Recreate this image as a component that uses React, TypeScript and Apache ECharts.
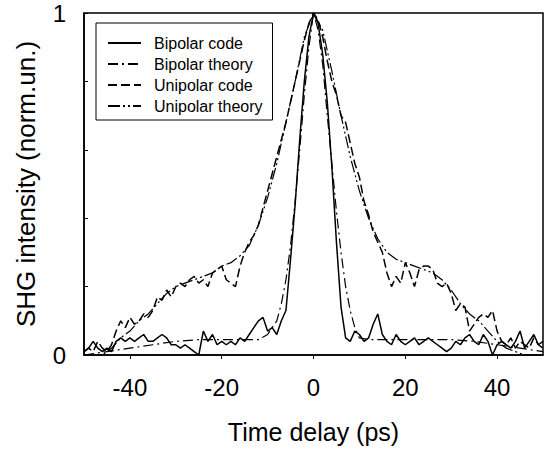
import React, { useEffect, useRef } from "react";
import * as echarts from "echarts";

// x grid for measured (noisy) traces, ps
const codeDelays = [
  -50, -49, -48, -47, -46, -45, -44, -43, -42, -41,
  -40, -39, -38, -37, -36, -35, -34, -33, -32, -31,
  -30, -29, -28, -27, -26, -25, -24, -23, -22, -21,
  -20, -19, -18, -17, -16, -15, -14, -13, -12, -11,
  -10, -9, -8, -7, -6, -5, -4, -3, -2, -1,
  0, 1, 2, 3, 4, 5, 6, 7, 8, 9,
  10, 11, 12, 13, 14, 15, 16, 17, 18, 19,
  20, 21, 22, 23, 24, 25, 26, 27, 28, 29,
  30, 31, 32, 33, 34, 35, 36, 37, 38, 39,
  40, 41, 42, 43, 44, 45, 46, 47, 48, 49,
  50,
];

const bipolarCode = [
  0.01, 0.02, 0.04, 0.02, 0.01, 0.02, 0.01, 0.04, 0.05, 0.04,
  0.05, 0.04, 0.05, 0.06, 0.04, 0.04, 0.05, 0.06, 0.05, 0.03,
  0.03, 0.02, 0.03, 0.02, 0.01, 0.0, 0.07, 0.04, 0.06, 0.03,
  0.04, 0.03, 0.04, 0.03, 0.05, 0.04, 0.06, 0.08, 0.1, 0.11,
  0.07, 0.08, 0.06, 0.1, 0.13, 0.28, 0.44, 0.63, 0.8, 0.93,
  1.0, 0.97, 0.88, 0.74, 0.55, 0.33, 0.14, 0.05, 0.04, 0.07,
  0.06, 0.04, 0.05, 0.09, 0.12, 0.06, 0.04, 0.03, 0.06, 0.04,
  0.03, 0.04, 0.05, 0.03, 0.04, 0.05, 0.04, 0.03, 0.02, 0.01,
  0.02, 0.04, 0.03, 0.05, 0.06, 0.04, 0.03, 0.06, 0.04, 0.0,
  0.03, 0.04, 0.03, 0.02, 0.04, 0.07, 0.02, 0.04, 0.06, 0.03,
  0.04,
];

const unipolarCode = [
  0.01, 0.02, 0.01, 0.04, 0.02, 0.01, 0.03, 0.07, 0.1, 0.08,
  0.11, 0.09, 0.1, 0.12, 0.11, 0.13, 0.17, 0.16, 0.19, 0.17,
  0.2, 0.21, 0.2, 0.22, 0.23, 0.21, 0.22, 0.2, 0.24, 0.25,
  0.26, 0.22, 0.21, 0.2, 0.26, 0.3, 0.33, 0.35, 0.38, 0.43,
  0.48, 0.53, 0.58, 0.63, 0.68, 0.74, 0.8, 0.86, 0.92, 0.97,
  1.0, 0.98, 0.93, 0.86, 0.8, 0.76, 0.7, 0.68, 0.62, 0.56,
  0.52, 0.45, 0.41, 0.36, 0.33, 0.3, 0.24, 0.2, 0.23, 0.21,
  0.27, 0.24, 0.2, 0.25, 0.26, 0.26, 0.25, 0.21, 0.2, 0.21,
  0.18, 0.13, 0.15, 0.14, 0.07, 0.09, 0.11, 0.12, 0.11, 0.13,
  0.07, 0.04, 0.03, 0.05, 0.02, 0.04, 0.03, 0.02, 0.05, 0.03,
  0.02,
];

// smooth theory curves
const bipolarTheoryX = [
  -50, -45, -40, -35, -30, -25, -20, -15, -12, -10, -8, -7, -6, -5, -4, -3, -2, -1,
  0, 1, 2, 3, 4, 5, 6, 7, 8, 9, 10, 12, 20, 30, 35, 40, 45, 50,
];
const bipolarTheoryY = [
  0.0, 0.01, 0.02, 0.03, 0.04, 0.045, 0.045, 0.045, 0.045, 0.06, 0.1, 0.15, 0.22, 0.32, 0.45, 0.6, 0.76, 0.9,
  1.0, 0.95, 0.85, 0.7, 0.56, 0.42, 0.3, 0.2, 0.13, 0.08, 0.05, 0.045, 0.045, 0.045, 0.04, 0.03, 0.02, 0.01,
];

const unipolarTheoryX = [
  -50, -46, -44, -42, -40, -38, -36, -34, -32, -30, -28, -26, -24, -22, -20, -18, -16, -14, -12, -10,
  -8, -6, -4, -2, 0, 2, 4, 6, 8, 10, 12, 14, 16, 18, 20, 22, 24, 26, 28, 30,
  32, 34, 36, 38, 40, 42, 44, 46, 50,
];
const unipolarTheoryY = [
  0.0, 0.0, 0.02, 0.05, 0.07, 0.1, 0.12, 0.15, 0.18, 0.2, 0.21, 0.22, 0.23, 0.24, 0.26, 0.27, 0.29, 0.32, 0.38, 0.46,
  0.56, 0.68, 0.8, 0.93, 1.0, 0.95, 0.83, 0.7, 0.58, 0.48, 0.4, 0.34, 0.3, 0.28, 0.27, 0.26, 0.25, 0.24, 0.22, 0.19,
  0.15, 0.12, 0.1, 0.07, 0.04, 0.02, 0.01, 0.0, 0.0,
];

const xTickValues = [-40, -20, 0, 20, 40];
const yTickValues = [0, 0.2, 0.4, 0.6, 0.8, 1];
const yLabelValues = [0, 1];

const seriesNames = ["Bipolar code", "Bipolar theory", "Unipolar code", "Unipolar theory"];

const zip = (xs: number[], ys: number[]) => xs.map((x, i) => [x, ys[i]]);

const FONT = "'Liberation Sans', Arial, Helvetica, sans-serif";

export default function App() {
  const ref = useRef<HTMLDivElement>(null);
  useEffect(() => {
    if (!ref.current) return;
    const chart = echarts.init(ref.current, undefined, { renderer: "svg" });
    const lineBase = (name: string, data: number[][], type: any, width: number) => ({
      name,
      type: "line",
      data,
      symbol: "none",
      smooth: false,
      lineStyle: { color: "#000", width, type },
      itemStyle: { color: "#000" },
      z: 3,
    });
    chart.setOption({
      animation: false,
      backgroundColor: "#fff",
      textStyle: { fontFamily: FONT, color: "#000" },
      grid: {
        left: 84,
        right: 8,
        top: 13,
        bottom: 90,
        show: true,
        borderColor: "#000",
        borderWidth: 1.5,
      },
      legend: {
        orient: "vertical",
        left: 96,
        top: 23,
        padding: [12, 10, 6, 11],
        itemGap: 5,
        itemWidth: 33,
        itemHeight: 14,
        borderColor: "#000",
        borderWidth: 1,
        backgroundColor: "#fff",
        itemStyle: { color: "transparent", borderWidth: 0, opacity: 0 },
        textStyle: { fontSize: 16, fontFamily: FONT, color: "#000", padding: [0, 0, 0, 8] },
        data: seriesNames,
      },
      xAxis: {
        type: "value",
        min: -50,
        max: 50,
        name: "Time delay (ps)",
        nameLocation: "middle",
        nameGap: 64,
        nameTextStyle: { fontSize: 25, fontFamily: FONT, color: "#000" },
        axisLine: { show: true, onZero: false, lineStyle: { color: "#000", width: 1.5 } },
        axisTick: { show: true, inside: false, length: 4, customValues: xTickValues, lineStyle: { color: "#000" } },
        axisLabel: { customValues: xTickValues, fontSize: 24, color: "#000", fontFamily: FONT, margin: 20 },
        splitLine: { show: false },
      },
      yAxis: {
        type: "value",
        min: 0,
        max: 1,
        name: "SHG intensity (norm.un.)",
        nameLocation: "middle",
        nameGap: 45,
        nameTextStyle: { fontSize: 26, fontFamily: FONT, color: "#000" },
        axisLine: { show: true, onZero: false, lineStyle: { color: "#000", width: 1.5 } },
        axisTick: { show: true, inside: true, length: 4, customValues: yTickValues, lineStyle: { color: "#000" } },
        axisLabel: {
          customValues: yLabelValues,
          fontSize: 24,
          color: "#000",
          fontFamily: FONT,
          margin: 18,
          formatter: (v: number) => String(v),
        },
        splitLine: { show: false },
      },
      series: [
        lineBase(seriesNames[0], zip(codeDelays, bipolarCode), "solid", 1.5),
        lineBase(seriesNames[1], zip(bipolarTheoryX, bipolarTheoryY), [10, 4, 2, 4], 1.2),
        lineBase(seriesNames[2], zip(codeDelays, unipolarCode), [9, 4], 1.5),
        lineBase(seriesNames[3], zip(unipolarTheoryX, unipolarTheoryY), [12, 3, 2, 3, 2, 3], 1.2),
      ],
    });
    return () => chart.dispose();
  }, []);
  return <div ref={ref} style={{ width: 551, height: 449, position: "absolute", left: 0, top: 0 }} />;
}
